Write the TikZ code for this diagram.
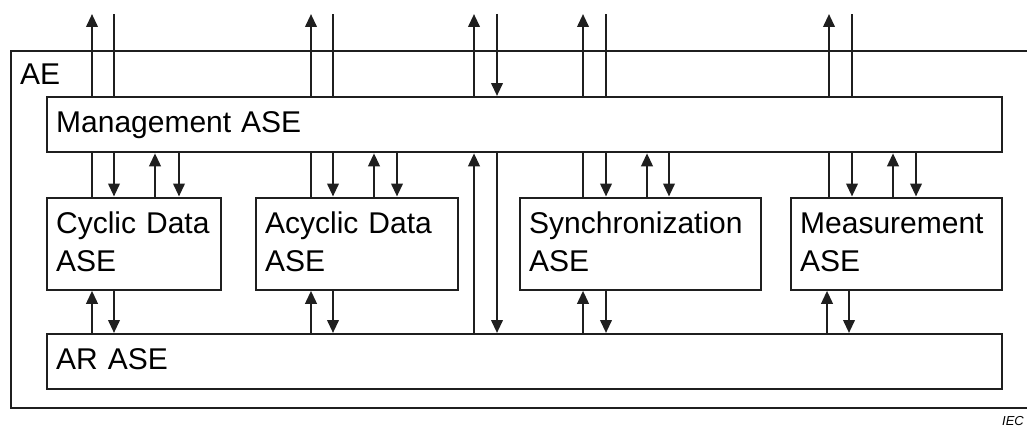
\documentclass[tikz,border=0pt]{standalone}
\usepackage{fontspec}
\setmainfont{Liberation Sans}
\usetikzlibrary{arrows.meta}
\begin{document}
\begin{tikzpicture}[x=1pt,y=-1pt,
  lw/.style={line width=2.3pt, draw=black!88},
  box/.style={draw, lw, rectangle, anchor=north west, inner xsep=9pt, inner ysep=0pt,
    align=left, font=\fontsize{30}{37.5}\selectfont},
  twoline/.style={text height=22pt, text depth=41.5pt},
  lbl/.style={font=\fontsize{30}{37.5}\selectfont, inner sep=0pt},
  arr/.style={lw, -{Triangle[length=13pt,width=11.5pt]}},
  ln/.style={lw}]
\useasboundingbox (0,0) rectangle (1027,428);
% outer AE container (right side runs off the page)
\node[draw, lw, anchor=north west, minimum width=1040pt, minimum height=357pt, inner sep=0pt] (ae) at (10,50) {};
\node[lbl, anchor=base west] (aelbl) at (20,84.5) {AE};
% boxes
\node[box, minimum width=955pt, minimum height=55pt, text width=937pt] (mgmt) at (46,96) {\mbox{Management ASE}};
\node[box, twoline, minimum width=174pt, minimum height=92pt, text width=156pt] (cyc) at (46,196.5) {\mbox{Cyclic Data}\\ASE};
\node[box, twoline, minimum width=202pt, minimum height=92pt, text width=184pt] (acy) at (255,196.5) {\mbox{Acyclic Data}\\ASE};
\node[box, twoline, minimum width=241pt, minimum height=92pt, text width=223pt] (syn) at (519,196.5) {\mbox{Synchronization}\\ASE};
\node[box, twoline, minimum width=211pt, minimum height=92pt, text width=193pt] (mea) at (790,196.5) {\mbox{Measurement}\\ASE};
\node[box, text height=22pt, text depth=6pt, minimum width=955pt, minimum height=55pt, text width=937pt] (ar) at (46,333) {\mbox{AR ASE}};
\node[font=\fontsize{13}{13}\itshape, anchor=base east, inner sep=0pt] (iec) at (1024,425) {IEC};
% connectors per ASE column
\foreach \b/\xa/\xb/\xc/\xd/\xe/\xf in {cyc/92/114/155/179/92/114, acy/311/333/374/397/311/333, syn/583/606/647/669/583/606, mea/829/852/893/916/827/849} {
  \coordinate (\b ta) at (\xa,14);
  \coordinate (\b tb) at (\xb,14);
  \coordinate (\b c) at (\xc,0);
  \coordinate (\b d) at (\xd,0);
  \coordinate (\b e) at (\xe,0);
  \coordinate (\b f) at (\xf,0);
  \draw[arr] (mgmt.north -| \b ta) -- (\b ta);
  \draw[ln] (mgmt.north -| \b tb) -- (\b tb);
  \draw[ln] (mgmt.south -| \b ta) -- (\b.north -| \b ta);
  \draw[arr] (mgmt.south -| \b tb) -- (\b.north -| \b tb);
  \draw[arr] (\b.north -| \b c) -- (mgmt.south -| \b c);
  \draw[arr] (mgmt.south -| \b d) -- (\b.north -| \b d);
  \draw[arr] (ar.north -| \b e) -- (\b.south -| \b e);
  \draw[arr] (\b.south -| \b f) -- (ar.north -| \b f);
}
% central pair
\coordinate (m1) at (474,14);
\coordinate (m2) at (497,14);
\draw[arr] (mgmt.north -| m1) -- (m1);
\draw[arr] (m2) -- (mgmt.north -| m2);
\draw[arr] (ar.north -| m1) -- (mgmt.south -| m1);
\draw[arr] (mgmt.south -| m2) -- (ar.north -| m2);
\end{tikzpicture}
\end{document}
